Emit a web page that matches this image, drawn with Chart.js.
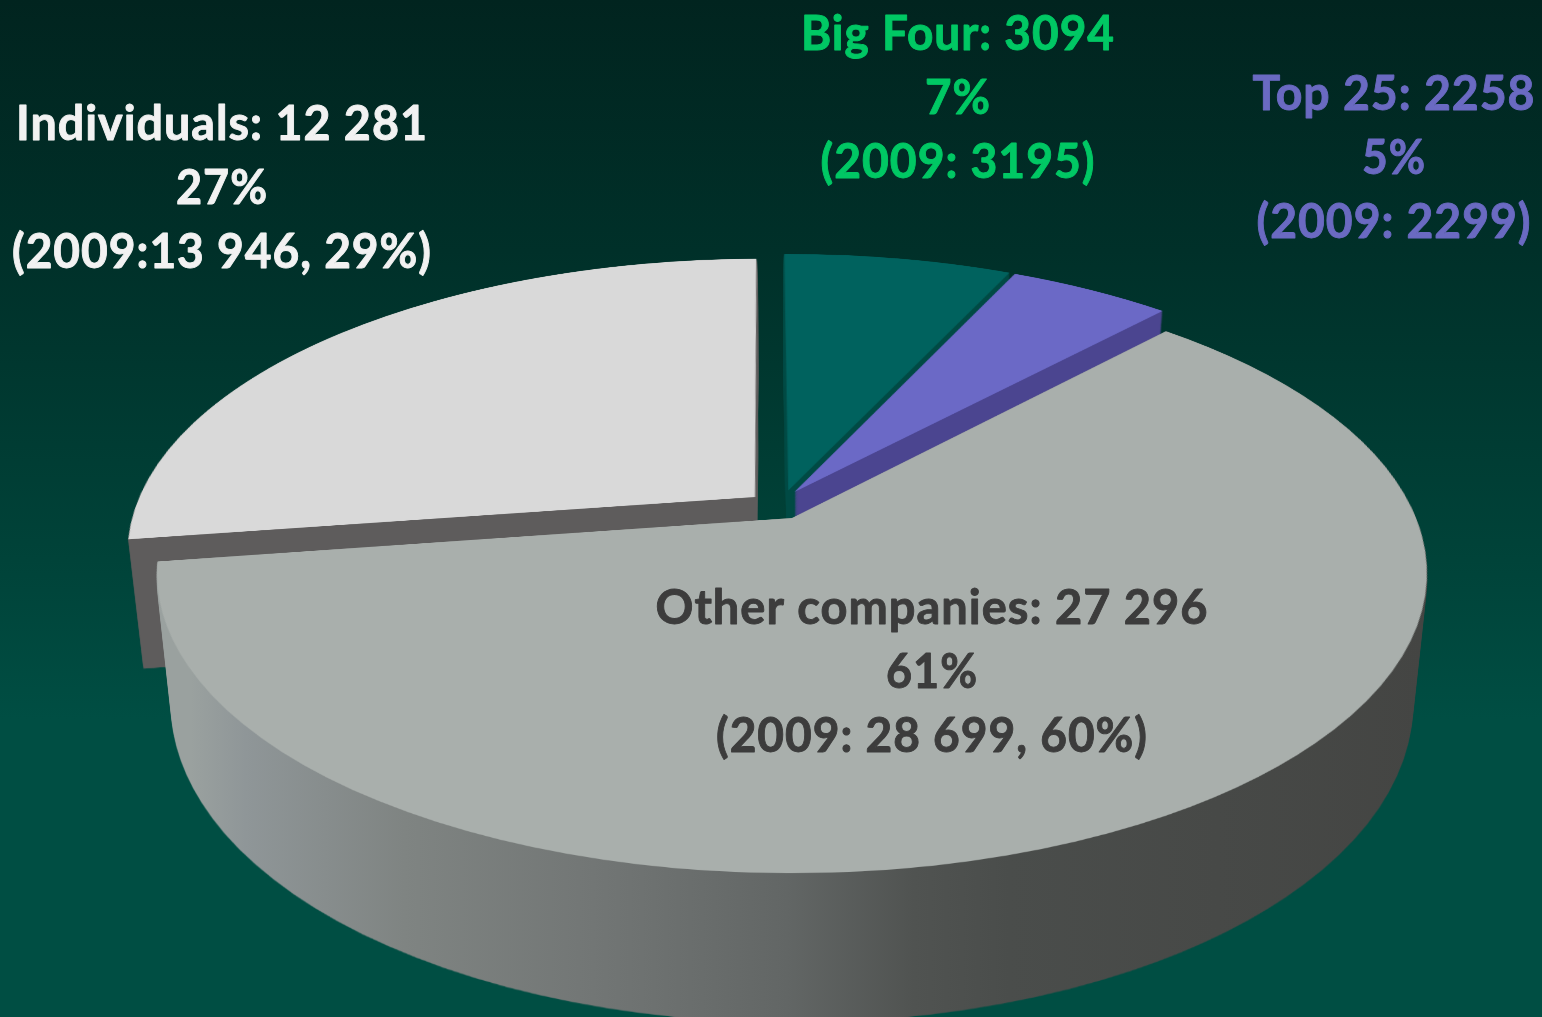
<!DOCTYPE html>
<html>
<head>
<meta charset="utf-8">
<style>
html,body{margin:0;padding:0;width:1542px;height:1017px;overflow:hidden;
background:linear-gradient(180deg,#01241f 0px,#003029 250px,#004339 560px,#004e43 720px,#004e43 1017px);}
canvas{display:block;}
</style>
<script src="https://cdn.jsdelivr.net/npm/chart.js@4"></script>
</head>
<body>
<canvas id="c" width="1542" height="1017"></canvas>
<script>
const categories = ["Big Four", "Top 25", "Other companies", "Individuals"];
const values2010 = [3094, 2258, 27296, 12281];
const sliceColors = ["#00625e", "#6b69c6", "#a9afac", "#d9d9d9"];
const wallColors = ["#004a44", "#4b4590", null, "#5e5c5c"];
const labelBigFour = ["Big Four: 3094", "7%", "(2009: 3195)"];
const labelTop25 = ["Top 25: 2258", "5%", "(2009: 2299)"];
const labelOther = ["Other companies: 27 296", "61%", "(2009: 28 699, 60%)"];
const labelIndividuals = ["Individuals: 12 281", "27%", "(2009:13 946, 29%)"];

/* layout of the perspective view */
const view = {cx: 792, cy: 518, a: 624, b: 289.5, p: 0.185};
const explode = [[-0.006, -0.097], [0.004, -0.0913], [0, 0], [-0.06, -0.0735]];
const startTweak = [-0.009, 0, 0, 0];
const endTweak = [0, 0, 0, -0.0085];
const drawOrder = [3, 0, 1, 2];
const wallStops = [[0.02, "#9aa19f"], [0.064, "#8f9698"], [0.19, "#7f8482"], [0.34, "#727675"], [0.494, "#626665"], [0.595, "#505351"], [0.67, "#4a4d4b"], [1, "#444543"]];
const labelBlocks = [
  {lines: labelBigFour, x: 958, y: 50, color: "#00c864", w: [314, 66, 275]},
  {lines: labelTop25, x: 1394, y: 110, color: "#6a6ac2", w: [283, 64, 275]},
  {lines: labelOther, x: 932, y: 624, color: "#3c3c3c", w: [553, 92, 432]},
  {lines: labelIndividuals, x: 222, y: 140, color: "#f2f2f2", w: [412, 92, 420]}
];
const lineStep = 64;
const labelFont = "bold 47px Lato";

function warpSlice(el, i, W, H) {
  const F = 640, S = 1.25;
  const fw = Math.ceil(2 * S * F), fh = fw;
  const flat = document.createElement("canvas");
  flat.width = fw; flat.height = fh;
  const fc = flat.getContext("2d");
  const k = F / el.outerRadius;
  fc.setTransform(k, 0, 0, k, fw / 2 - el.x * k + explode[i][0] * F, fh / 2 - el.y * k + explode[i][1] * F);
  const s0 = el.startAngle, e0 = el.endAngle;
  el.startAngle = s0 + startTweak[i];
  el.endAngle = e0 + endTweak[i];
  el.draw(fc);
  el.startAngle = s0;
  el.endAngle = e0;
  const out = document.createElement("canvas");
  out.width = W; out.height = H;
  const oc = out.getContext("2d");
  oc.imageSmoothingEnabled = true;
  oc.imageSmoothingQuality = "high";
  for (let y = 0; y < H; y++) {
    const t = y + 0.5 - view.cy;
    const den = view.b + view.p * t;
    if (den <= 0) continue;
    const v = t / den;
    if (Math.abs(v) > S) continue;
    const w = 1 - view.p * v;
    const dw = (fw / F) * view.a / w;
    const sh = Math.max(1, F * view.b / (den * den));
    const sy = fh / 2 + v * F - sh / 2;
    oc.drawImage(flat, 0, sy, fw, sh, view.cx - dw / 2, y, dw, 1);
  }
  return out;
}

function wallLayer(top, i, W, H) {
  const lay = document.createElement("canvas");
  lay.width = W; lay.height = H;
  const lc = lay.getContext("2d");
  const N = 170;
  for (let n = N; n >= 1; n--) {
    const d = n / N;
    const sx = 1 - 0.023 * d, sy = 1 + 0.06 * d, dy = 128 * d;
    lc.setTransform(sx, 0, 0, sy, view.cx * (1 - sx), view.cy * (1 - sy) + dy);
    lc.drawImage(top, 0, 0);
  }
  lc.setTransform(1, 0, 0, 1, 0, 0);
  lc.globalCompositeOperation = "source-in";
  if (wallColors[i]) {
    lc.fillStyle = wallColors[i];
  } else {
    const g = lc.createLinearGradient(165, 0, 1425, 0);
    wallStops.forEach(s => g.addColorStop(s[0], s[1]));
    lc.fillStyle = g;
  }
  lc.fillRect(0, 0, W, H);
  return lay;
}

const perspective3D = {
  id: "perspective3D",
  beforeDatasetsDraw(chart) {
    const ctx = chart.ctx, W = chart.width, H = chart.height + 60;
    const arcs = chart.getDatasetMeta(0).data;
    ctx.save();
    ctx.filter = "blur(0.6px)";
    drawOrder.forEach(i => {
      const top = warpSlice(arcs[i], i, W, H);
      ctx.drawImage(wallLayer(top, i, W, H), 0, 0);
      ctx.drawImage(top, 0, 0);
    });
    ctx.restore();
    return false;
  },
  afterDraw(chart) {
    const ctx = chart.ctx;
    ctx.save();
    ctx.font = labelFont;
    ctx.letterSpacing = "1px";
    ctx.textAlign = "center";
    ctx.textBaseline = "alphabetic";
    ctx.lineJoin = "round";
    ctx.lineWidth = 0.9;
    labelBlocks.forEach(b => {
      ctx.fillStyle = b.color;
      ctx.strokeStyle = b.color;
      b.lines.forEach((s, n) => {
        ctx.fillText(s, b.x, b.y + n * lineStep, b.w[n]);
        ctx.strokeText(s, b.x, b.y + n * lineStep, b.w[n]);
      });
    });
    ctx.restore();
  }
};

new Chart(document.getElementById("c"), {
  type: "pie",
  data: {
    labels: categories,
    datasets: [{data: values2010, backgroundColor: sliceColors, borderWidth: 0}]
  },
  options: {
    responsive: false,
    animation: false,
    rotation: 0,
    plugins: {legend: {display: false}, title: {display: false}, tooltip: {enabled: false}}
  },
  plugins: [perspective3D]
});
</script>
</body>
</html>
